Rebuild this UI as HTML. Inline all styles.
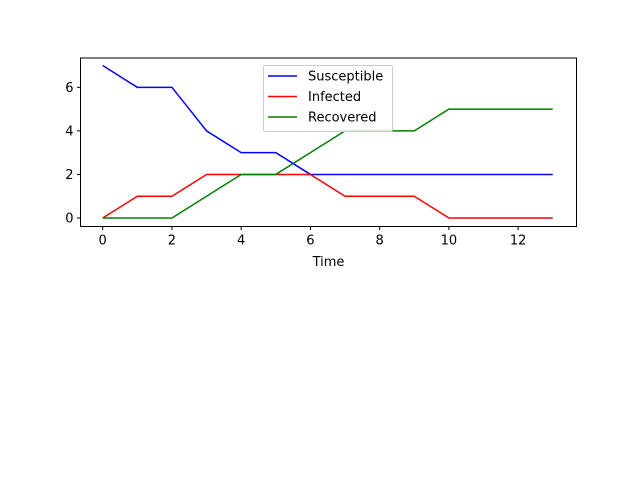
<!DOCTYPE html>
<html><head><meta charset="utf-8"><style>
body{margin:0;background:#fff;}
text{font-family:"DejaVu Sans","Liberation Sans",sans-serif;font-size:13px;fill:#000;}
</style></head><body>
<svg id="chart" width="640" height="480" xmlns="http://www.w3.org/2000/svg">
<rect width="640" height="480" fill="#fff"/>
<g id="plot"></g>
</svg>
<script>
const times=[0,1,2,3,4,5,6,7,8,9,10,11,12,13];
const susceptible=[7,6,6,4,3,3,2,2,2,2,2,2,2,2];
const infected=[0,1,1,2,2,2,2,1,1,1,0,0,0,0];
const recovered=[0,0,0,1,2,2,3,4,4,4,5,5,5,5];
const xTicks=[0,2,4,6,8,10,12];
const yTicks=[0,2,4,6];
const NS="http://www.w3.org/2000/svg";
const g=document.getElementById('plot');
const L=80.5,R=576.5,T=58,B=226.5;
const X=v=>102.7+v*34.62;
const Y=v=>218-v*21.78;
function el(t,a){const e=document.createElementNS(NS,t);for(const k in a)e.setAttribute(k,a[k]);g.appendChild(e);return e;}
const series=[["susceptible",susceptible,"#0000ff"],["infected",infected,"#ff0000"],["recovered",recovered,"#008000"]];
series.forEach(([n,d,c])=>{
 const p=el('polyline',{points:d.map((v,i)=>X(times[i])+','+Y(v)).join(' '),fill:'none',stroke:c,'stroke-width':1.5});
 
 
});
const f=el('rect',{x:L,y:T,width:R-L,height:B-T,fill:'none',stroke:'#000','stroke-width':1});


xTicks.forEach(v=>{
 el('line',{x1:X(v),x2:X(v),y1:B,y2:B+3.5,stroke:'#000'});
 const t=el('text',{x:X(v),y:B+18,'text-anchor':'middle'});t.textContent=v;
 
 
});
yTicks.forEach(v=>{
 el('line',{x1:L,x2:L-3.5,y1:Y(v),y2:Y(v),stroke:'#000'});
 const t=el('text',{x:L-7,y:Y(v)+4.5,'text-anchor':'end'});t.textContent=v;
 
 
});
const xt=el('text',{x:(L+R)/2,y:266,'text-anchor':'middle'});xt.textContent='Time';


const lg=el('rect',{x:263.5,y:65.5,width:129,height:66,rx:2,fill:'#fff','fill-opacity':0.8,stroke:'#ccc'});


["Susceptible","Infected","Recovered"].forEach((name,i)=>{
 const y=76+i*20.5;
 el('line',{x1:268,x2:297,y1:y,y2:y,stroke:series[i][2],'stroke-width':1.5});
 const t=el('text',{x:308,y:y+4.5});t.textContent=name;
 
 
});
</script>
</body></html>
